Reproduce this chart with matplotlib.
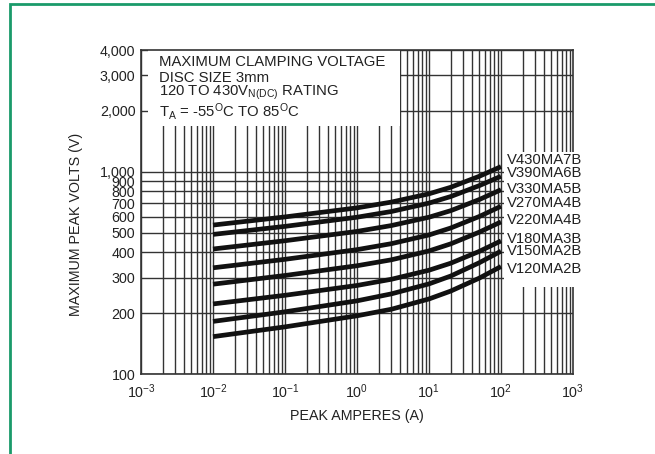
import numpy as np
import matplotlib.pyplot as plt
from matplotlib.patches import Rectangle

plt.rcParams['font.family'] = ['Liberation Sans', 'DejaVu Sans']
plt.rcParams['mathtext.fontset'] = 'custom'
plt.rcParams['mathtext.rm'] = 'Liberation Sans'
plt.rcParams['mathtext.it'] = 'Liberation Sans:italic'
plt.rcParams['mathtext.bf'] = 'Liberation Sans:bold'

# data
amps = [0.01, 0.1, 1, 3, 10, 20, 50, 100]
models = ['V430MA7B', 'V390MA6B', 'V330MA5B', 'V270MA4B',
          'V220MA4B', 'V180MA3B', 'V150MA2B', 'V120MA2B']
volts = [
    [545, 598, 663, 708, 778, 838, 950, 1060],
    [490, 537, 596, 636, 700, 754, 854, 950],
    [415, 456, 507, 542, 596, 642, 729, 815],
    [335, 369, 412, 441, 487, 527, 601, 675],
    [278, 307, 343, 367, 406, 440, 503, 565],
    [222, 245, 274, 294, 326, 353, 404, 455],
    [182, 203, 230, 249, 279, 305, 355, 405],
    [153, 171, 194, 209, 235, 257, 298, 340],
]
ytick_vals = [100, 200, 300, 400, 500, 600, 700, 800, 900, 1000, 2000, 3000, 4000]
ytick_labels = ['100', '200', '300', '400', '500', '600', '700', '800', '900',
                '1,000', '2,000', '3,000', '4,000']
xtick_vals = [1e-3, 1e-2, 1e-1, 1e0, 1e1, 1e2, 1e3]
xtick_labels = [r'$10^{-3}$', r'$10^{-2}$', r'$10^{-1}$', r'$10^{0}$',
                r'$10^{1}$', r'$10^{2}$', r'$10^{3}$']
info_lines = ['MAXIMUM CLAMPING VOLTAGE',
              'DISC SIZE 3mm',
              r'120 TO 430V$_{\mathrm{N(DC)}}$ RATING',
              r'T$_{\mathrm{A}}$ = -55$^{\mathrm{O}}$C TO 85$^{\mathrm{O}}$C']

# label placement on the right (axes fraction)
label_pos = [0.662, 0.619, 0.570, 0.527, 0.475, 0.417, 0.380, 0.324]

grid_c = '#333333'
txt_c = '#222222'
fig = plt.figure(figsize=(6.55, 4.54), dpi=100)
ax = fig.add_axes([141 / 655, 1 - 374 / 454, 432 / 655, 324 / 454])
ax.set_xscale('log')
ax.set_yscale('log')
ax.set_xlim(1e-3, 1e3)
ax.set_ylim(100, 4000)

# grid
for k in range(-3, 3):
    for m in range(1, 10):
        ax.axvline(m * 10.0 ** k, color=grid_c, lw=1.0, zorder=1)
for v in ytick_vals:
    ax.axhline(v, color=grid_c, lw=1.0, zorder=1)

for v in volts:
    ax.plot(amps, v, color='#111111', lw=3.4, solid_capstyle='butt',
            solid_joinstyle='round', zorder=3)

# info box on top-left
ax.add_patch(Rectangle((0.016, 0.765), 0.584, 0.235, transform=ax.transAxes,
                       facecolor='white', edgecolor='none', zorder=2))
line_y = [0.962, 0.915, 0.868, 0.810]
for t, yy in zip(info_lines, line_y):
    ax.text(0.042, yy, t, transform=ax.transAxes, fontsize=10.7,
            va='center', ha='left', color=txt_c, zorder=4)

# label box on right
ax.add_patch(Rectangle((0.84, 0.2685), 0.25, 0.4165, transform=ax.transAxes,
                       facecolor='white', edgecolor='none', zorder=2.6,
                       clip_on=False))
for name, yy in zip(models, label_pos):
    ax.text(0.847, yy, name, transform=ax.transAxes, fontsize=10.7,
            va='center', ha='left', color=txt_c, zorder=4, clip_on=False)

ax.set_yticks(ytick_vals)
ax.set_yticklabels(ytick_labels)
ax.set_xticks(xtick_vals)
ax.set_xticklabels(xtick_labels)
ax.minorticks_off()
ax.tick_params(length=0, labelsize=10.3, colors=txt_c, pad=4)
ax.tick_params(axis='x', pad=6)
for s in ax.spines.values():
    s.set_color(grid_c)
    s.set_linewidth(1.2)

ax.set_xlabel('PEAK AMPERES (A)', fontsize=10.3, color=txt_c, labelpad=6)
ax.set_ylabel('MAXIMUM PEAK VOLTS (V)', fontsize=10.3, color=txt_c)
ax.yaxis.set_label_coords(-0.134, 0.463)

# green frame
fig.patches.append(Rectangle((10 / 655, -0.1), 1.2, 1.1 - 4 / 454,
                             transform=fig.transFigure, fill=False,
                             edgecolor='#1a9a6a', lw=2.0))

fig.savefig('out.png', dpi=100)
